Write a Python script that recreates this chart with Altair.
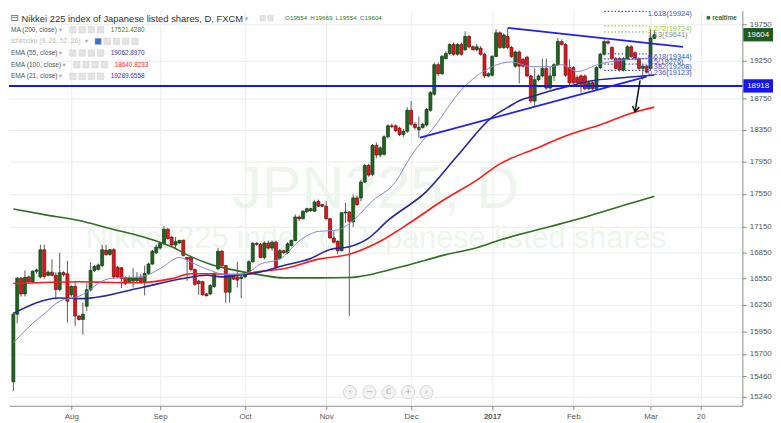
import altair as alt
import pandas as pd

# ---------------- layout helpers (reference plot 757x408 -> ours) ----------------
W, H = 742, 400
RW, RH = 757.0, 408.0


def px(x):
    return round(x * W / RW, 2)


def py(y):
    return round(y * H / RH, 2)


FONT = "Liberation Sans"
SYM = "DejaVu Sans"

# ---------------- data ----------------
holidays = ["2016-12-26", "2017-01-02"]
dates = [d.strftime("%Y-%m-%d") for d in pd.bdate_range("2016-07-11", "2017-03-02")
         if d.strftime("%Y-%m-%d") not in holidays]

open_ = [
    15400, 16140, 16550, 16370, 16565, 16510, 16630, 16565, 16880, 16584,
    16620, 16584, 16420, 16614, 16600, 16361, 16455, 16120, 16082, 16230,
    16417, 16640, 16650, 16696, 16874, 16826, 16881, 16677, 16670, 16555,
    16510, 16517, 16520, 16555, 16510, 16603, 16714, 16845, 16900, 16950,
    17124, 17030, 16937, 16960, 16993, 16790, 16790, 16651, 16517, 16510,
    16370, 16370, 16455, 16659, 16863, 16696, 16390, 16584, 16565, 16547,
    16565, 16621, 16740, 16956, 16945, 16790, 16960, 16900, 16970, 16780,
    16870, 16846, 16930, 16990, 17270, 17250, 17335, 17345, 17340, 17460,
    17420, 17400, 17250, 17020, 16980, 16870, 17320, 17330, 17210, 17500,
    17500, 17695, 17900, 17790, 18150, 18030, 18040, 18260, 18400, 18400,
    18370, 18290, 18330, 18600, 18420, 18350, 18380, 18410, 18600, 18810,
    19200, 19080, 19280, 19350, 19470, 19340, 19470, 19400, 19580, 19440,
    19400, 19420, 19340, 19050, 19060, 19310, 19630, 19430, 19580, 19430,
    19180, 19370, 19270, 19300, 19050, 18720, 19000, 19050, 19150, 18890,
    19050, 19200, 19510, 19470, 19160, 19160, 19030, 19050, 19050, 18880,
    18960, 18880, 19160, 19340, 19510, 19430, 19280, 19280, 19130, 19280,
    19440, 19360, 19280, 19150, 19180, 19150, 19554]

high_ = [
    16160, 16565, 16565, 16640, 16580, 16640, 16660, 16940, 16940, 16640,
    16770, 16620, 16845, 16630, 16750, 16470, 16510, 16130, 16270, 16490,
    16733, 16700, 16720, 16937, 16937, 16890, 16900, 16690, 16680, 16570,
    16580, 16666, 16620, 16600, 16696, 16730, 16880, 16940, 16970, 17160,
    17140, 17040, 17030, 17000, 17000, 16790, 16800, 16660, 16530, 16520,
    16380, 16480, 16620, 16900, 16880, 16700, 16600, 16600, 16740, 16584,
    16620, 16760, 16970, 16970, 16960, 16980, 16990, 16990, 16990, 16890,
    16880, 16970, 17000, 17300, 17290, 17350, 17380, 17380, 17470, 17480,
    17430, 17460, 17260, 17100, 16990, 17330, 17440, 17340, 17540, 17530,
    17720, 17920, 17920, 18170, 18190, 18140, 18280, 18420, 18430, 18420,
    18390, 18360, 18640, 18720, 18450, 18520, 18440, 18630, 18850, 19230,
    19230, 19330, 19380, 19490, 19500, 19490, 19500, 19650, 19600, 19460,
    19480, 19450, 19360, 19100, 19330, 19680, 19650, 19620, 19700, 19450,
    19390, 19390, 19290, 19320, 19060, 19150, 19070, 19280, 19280, 19170,
    19220, 19560, 19540, 19490, 19270, 19180, 19060, 19070, 19070, 18980,
    18980, 19180, 19360, 19540, 19530, 19450, 19300, 19300, 19300, 19460,
    19460, 19380, 19300, 19200, 19200, 19680, 19669]

low_ = [
    15300, 16040, 16340, 16340, 16490, 16490, 16600, 16547, 16547, 16570,
    16570, 16305, 16400, 16570, 16045, 16340, 16010, 16070, 15915, 16175,
    16398, 16620, 16640, 16677, 16808, 16810, 16547, 16550, 16435, 16470,
    16490, 16443, 16500, 16490, 16353, 16590, 16700, 16830, 16880, 16940,
    17000, 16920, 16900, 16950, 16800, 16520, 16630, 16460, 16360, 16350,
    16340, 16360, 16440, 16640, 16680, 16270, 16270, 16530, 16443, 16323,
    16550, 16600, 16730, 16930, 16780, 16770, 16880, 16870, 16660, 16760,
    16830, 16830, 16920, 16980, 17220, 17240, 17320, 17330, 17330, 17390,
    17390, 17230, 17010, 16960, 16830, 16860, 17200, 16120, 17150, 17400,
    17460, 17680, 17760, 17770, 17990, 18000, 18020, 18240, 18370, 18320,
    18270, 18260, 18310, 18400, 18350, 18250, 18360, 18390, 18580, 18790,
    19050, 19060, 19270, 19330, 19320, 19320, 19320, 19380, 19420, 19390,
    19380, 19320, 19020, 19030, 19040, 19300, 19410, 19410, 19410, 19290,
    19160, 18950, 19160, 19030, 18700, 18660, 18980, 19030, 18870, 18870,
    18980, 19180, 19460, 19040, 18920, 18940, 18940, 18830, 18860, 18860,
    18860, 18860, 19140, 19320, 19470, 19270, 19140, 19110, 19110, 19260,
    19290, 19260, 19130, 19000, 19080, 19130, 19554]

close_ = [
    16140, 16550, 16370, 16560, 16510, 16630, 16645, 16880, 16570, 16620,
    16584, 16420, 16614, 16590, 16288, 16455, 16120, 16082, 16140, 16417,
    16640, 16688, 16703, 16881, 16826, 16881, 16565, 16565, 16547, 16490,
    16555, 16555, 16555, 16510, 16603, 16714, 16863, 16912, 16956, 17124,
    17012, 16937, 16975, 16990, 16815, 16770, 16651, 16480, 16490, 16361,
    16350, 16465, 16603, 16863, 16696, 16390, 16584, 16540, 16528, 16565,
    16603, 16740, 16956, 16945, 16790, 16960, 16900, 16970, 16680, 16870,
    16846, 16950, 16990, 17270, 17250, 17340, 17370, 17370, 17450, 17400,
    17400, 17250, 17020, 16970, 16870, 17320, 17330, 17220, 17500, 17420,
    17695, 17900, 17780, 18150, 18030, 18120, 18260, 18400, 18390, 18340,
    18290, 18330, 18600, 18420, 18380, 18380, 18420, 18610, 18830, 19200,
    19080, 19310, 19350, 19470, 19340, 19470, 19340, 19580, 19440, 19400,
    19440, 19340, 19050, 19080, 19310, 19630, 19430, 19600, 19430, 19310,
    19370, 19180, 19180, 19050, 18720, 19000, 19050, 19150, 18890, 19050,
    19200, 19510, 19470, 19060, 18960, 18960, 18960, 18940, 18880, 18960,
    18880, 19160, 19340, 19510, 19490, 19280, 19150, 19130, 19280, 19440,
    19310, 19280, 19150, 19180, 19100, 19560, 19604]

# bar-index positions of the month labels and the labels themselves
month_ticks = [15, 38, 60, 81, 103, 124, 145, 165, 178]
month_labels = ["Aug", "Sep", "Oct", "Nov", "Dec", "2017", "Feb", "Mar", "20"]
price_ticks = [19750, 19250, 18750, 18350, 17950, 17550, 17150, 16850,
               16550, 16250, 15950, 15700, 15460, 15240]

# moving averages (bar index, value)
ma200_i = [0, 8, 17, 25, 33, 41, 46, 51, 56, 64, 70, 79, 87, 92, 97, 103, 111, 120, 126, 139, 149, 159, 166]
ma200_v = [17365, 17298, 17228, 17132, 17040, 16915, 16800, 16711, 16655, 16588, 16554, 16554,
           16558, 16588, 16643, 16711, 16812, 16903, 16995, 17155, 17283, 17423, 17521]
ema100_i = [0, 8, 17, 25, 33, 41, 46, 51, 58, 64, 70, 79, 87, 95, 103, 111, 120, 126, 135, 144, 152, 160, 166]
ema100_v = [16490, 16501, 16509, 16501, 16498, 16545, 16602, 16602, 16591, 16629, 16659, 16771,
            16827, 16980, 17210, 17463, 17719, 17920, 18106, 18290, 18413, 18562, 18641]
ema55_i = [0, 12, 18, 33, 44, 50, 54, 58, 64, 70, 77, 82, 87, 92, 97, 107, 115, 124, 128, 131,
           135, 139, 144, 149, 159, 166]
ema55_v = [16150, 16324, 16317, 16441, 16547, 16584, 16565, 16584, 16621, 16696, 16778, 16884,
           16915, 17018, 17228, 17580, 18020, 18512, 18637, 18725, 18788, 18852, 18916, 18980,
           19032, 19063]
ema21_i = [0, 5, 8, 12, 17, 25, 33, 38, 43, 46, 51, 55, 60, 64, 69, 74, 79, 84, 87, 93, 99, 103,
           109, 116, 124, 129, 134, 139, 142, 146, 152, 156, 161, 166]
ema21_v = [15823, 16038, 16146, 16288, 16343, 16547, 16565, 16659, 16790, 16733, 16640, 16591,
           16602, 16714, 16771, 16983, 17098, 17113, 17190, 17463, 17699, 18020, 18388, 18864,
           19173, 19237, 19173, 19173, 19199, 19109, 19212, 19250, 19276, 19290]

support_level = 18918
last_close = 19604
tri_upper_i = [128.1, 173.4]
tri_upper_v = [19697, 19440]
tri_lower_i = [105.3, 164.0]
tri_lower_v = [18249, 19042]
fib_names = ["1.618", "1.272", "1.13", "0.618", "0.5", "0.382", "0.236"]
fib_values = [19924, 19724, 19641, 19344, 19276, 19208, 19123]
fib_span = [153.0, 164.0]
arrow_i = [162.3, 161.0]
arrow_v = [18991, 18585]

legend_names = ["MA (200, close)", "Ichimoku (9, 26, 52, 26)", "EMA (55, close)",
                "EMA (100, close)", "EMA (21, close)"]
legend_values = ["17521.4280", "", "19062.8970", "18640.8233", "19289.6558"]
ohlc_names = ["O", "H", "L", "C"]
ohlc_values = ["19554", "19669", "19554", "19604"]

# ---------------- styles ----------------
fib_colors = ["#3b4fd8", "#9acd32", "#8a8a8a", "#3b4fd8", "#3b4fd8", "#3b4fd8", "#3b4fd8"]
UP, DOWN = "#1f6420", "#e8141b"

# ---------------- scales & axes ----------------
label_expr = " : ".join(f"datum.value == {t} ? '{l}'" for t, l in zip(month_ticks, month_labels)) + " : ''"
xscale = alt.Scale(domain=[0.15, 187.5], nice=False, zero=False)
yscale = alt.Scale(type="log", domain=[15145, 19938], nice=False)
xaxis = alt.Axis(values=month_ticks, labelExpr=label_expr, title=None, grid=True, gridColor="#ececec",
                 domainColor="#8c8c8c", tickColor="#8c8c8c", tickSize=4, labelFont=FONT,
                 labelFontSize=8, labelColor="#555555", labelPadding=3, labelFlush=False,
                 labelOverlap=False,
                 labelFontWeight={"condition": {"test": "datum.value == 124", "value": "bold"},
                                  "value": "normal"})
yaxis = alt.Axis(orient="right", values=price_ticks, format="d", title=None, grid=True,
                 gridColor="#ececec", domainColor="#8c8c8c", tickColor="#8c8c8c", tickSize=4,
                 labelFont=FONT, labelFontSize=8, labelColor="#555555", labelPadding=3,
                 labelFlush=False, labelOverlap=False)


def X(f):
    return alt.X(f, type="quantitative", scale=xscale, axis=xaxis)


def Y(f):
    return alt.Y(f, type="quantitative", scale=yscale, axis=yaxis)


def txt(s, x, y, color="#555555", size=7, weight="normal", align="left", font=FONT):
    return alt.Chart(alt.Data(values=[{"t": s}])).mark_text(
        color=color, fontSize=size, fontWeight=weight, align=align, baseline="middle", font=font
    ).encode(x=alt.value(px(x)), y=alt.value(py(y)), text="t:N")


def box(x, y, color="#e4e4e4", size=6.5):
    return alt.Chart(alt.Data(values=[{}])).mark_square(
        size=size * size, color=color, opacity=1, stroke="#d0d0d0", strokeWidth=0.5
    ).encode(x=alt.value(px(x)), y=alt.value(py(y)))


layers = []

# watermark
layers.append(txt("JPN225, D", 378.5, 186, color="#edf5ed", size=60, align="center"))
layers.append(txt("Nikkei 225 index of Japanese listed shares", 378.5, 236, color="#edf5ed",
                  size=31, align="center"))

# candles
n = min(len(dates), len(open_), len(high_), len(low_), len(close_))
cdf = pd.DataFrame({"i": list(range(n)), "date": dates[:n], "open": open_[:n], "high": high_[:n],
                    "low": low_[:n], "close": close_[:n]})
up = "datum.close >= datum.open"
layers.append(alt.Chart(cdf).mark_rule(color="#5a5a5a", strokeWidth=1, clip=True).encode(
    x=X("i"), y=Y("low"), y2="high"))
layers.append(alt.Chart(cdf).mark_bar(size=3, strokeWidth=0.7, clip=True).encode(
    x=X("i"), y=Y("open"), y2="close",
    fill=alt.condition(up, alt.value(UP), alt.value(DOWN)),
    stroke=alt.condition(up, alt.value("#0c3a0c"), alt.value("#6b0a0a"))))


def ma_line(idx, vals, color, width):
    df = pd.DataFrame({"i": idx, "v": vals})
    return alt.Chart(df).mark_line(color=color, strokeWidth=width, interpolate="monotone",
                                   clip=True).encode(x=X("i"), y=Y("v"))


layers.append(ma_line(ma200_i, ma200_v, "#2f6f1f", 1.6))
layers.append(ma_line(ema100_i, ema100_v, "#ff1a1a", 1.6))
layers.append(ma_line(ema55_i, ema55_v, "#27279a", 1.6))
layers.append(ma_line(ema21_i, ema21_v, "#8585dd", 1.0))

# support line
layers.append(alt.Chart(pd.DataFrame({"v": [support_level]})).mark_rule(
    color="#1414f5", strokeWidth=2).encode(y=Y("v")))

# triangle
tri = pd.DataFrame({"seg": ["u", "u", "l", "l"], "i": tri_upper_i + tri_lower_i,
                    "v": tri_upper_v + tri_lower_v})
layers.append(alt.Chart(tri).mark_line(color="#1f1ff0", strokeWidth=1.8).encode(
    x=X("i"), y=Y("v"), detail="seg:N"))

# fibonacci levels
fib = pd.DataFrame({"value": fib_values, "col": fib_colors,
                    "label": [f"{a}({b})" for a, b in zip(fib_names, fib_values)],
                    "x0": [fib_span[0]] * len(fib_values), "x1": [fib_span[1]] * len(fib_values)})
layers.append(alt.Chart(fib).mark_rule(strokeDash=[1.5, 2], strokeWidth=1.2).encode(
    x=X("x0"), x2="x1", y=Y("value"), color=alt.Color("col:N", scale=None)))
layers.append(alt.Chart(fib).mark_text(align="left", baseline="middle", dx=1, dy=3, fontSize=7.5,
                                       font=FONT).encode(
    x=X("x1"), y=Y("value"), text="label:N", color=alt.Color("col:N", scale=None)))

# arrow
layers.append(alt.Chart(pd.DataFrame({"i": arrow_i, "v": arrow_v})).mark_line(
    color="#111111", strokeWidth=1.5).encode(x=X("i"), y=Y("v")))
layers.append(alt.Chart(pd.DataFrame({"i": [arrow_i[-1]], "v": [arrow_v[-1]]})).mark_point(
    shape="M-0.7,-1L0,0L0.7,-1", size=100, filled=False, stroke="#111111", strokeWidth=1.5,
    angle=9, opacity=1).encode(x=X("i"), y=Y("v")))

# price tags on the axis
tags = pd.DataFrame({"v": [last_close, support_level], "t": [str(last_close), str(support_level)],
                     "bg": ["#1e5b1e", "#1414f5"]})
RECT = "M-1,-0.45L1,-0.45L1,0.45L-1,0.45Z"
layers.append(alt.Chart(tags).mark_point(shape=RECT, size=900, filled=True, opacity=1,
                                         strokeWidth=0).encode(
    x=alt.value(W + 16), y=Y("v"), fill=alt.Color("bg:N", scale=None)))
layers.append(alt.Chart(tags).mark_text(color="white", fontSize=8, align="center",
                                        baseline="middle", font=FONT).encode(
    x=alt.value(W + 16), y=Y("v"), text="t:N"))

# header legend
layers.append(txt("\u229f", 5.5, 8, color="#666666", size=10, align="center", font=SYM))
layers.append(txt("Nikkei 225 index of Japanese listed shares, D, FXCM", 13, 8.5, color="#333333",
                  size=9.5))
layers.append(txt("\u25be", 245, 8.5, color="#aaaaaa", size=7, align="center", font=SYM))
layers.append(box(262, 8, size=5.5))
layers.append(box(270, 8, size=5.5))
for nm, val, xn, xv in zip(ohlc_names, ohlc_values, [285, 311, 337, 362], [290, 316, 341, 367]):
    layers.append(txt(nm, xn, 8, color="#666666", size=6.3))
    layers.append(txt(val, xv, 8, color="#2a7a2a", size=6.3))

row_y = [20, 32, 44, 56, 68]
row_arrow_x = [53, 80, 53, 57, 53]
row_icon_x = [66, 92, 66, 70, 66]
row_val_x = [105, 0, 105, 109, 105]
row_val_col = ["#3b8526", "#000000", "#3636a8", "#ff2a2a", "#3636a8"]
for k, (nm, val) in enumerate(zip(legend_names, legend_values)):
    y = row_y[k]
    layers.append(txt(nm, 2, y, color="#bbbbbb" if k == 1 else "#555555", size=6.7))
    layers.append(txt("\u25be", row_arrow_x[k], y, color="#aaaaaa", size=6.5, align="center",
                      font=SYM))
    nicons = 5 if k == 1 else 4
    for j in range(nicons):
        col = "#3a6fd0" if (k == 1 and j == 0) else "#e4e4e4"
        layers.append(box(row_icon_x[k] + 9.5 * j, y, color=col))
    if val:
        layers.append(txt(val, row_val_x[k], y, color=row_val_col[k], size=6.5))

# realtime marker
layers.append(alt.Chart(alt.Data(values=[{}])).mark_circle(size=16, color="#2f6f3f", opacity=1)
              .encode(x=alt.value(px(722)), y=alt.value(py(7.5))))
layers.append(txt("realtime", 726, 7.5, color="#2f6f3f", size=6.5, weight="bold"))

# zoom buttons
for bx, sym in zip([352, 372, 392, 412, 431], ["\u2039", "\u2212", "C", "+", "\u203a"]):
    layers.append(alt.Chart(alt.Data(values=[{}])).mark_point(
        shape="circle", size=180, filled=True, fill="#f3f3f3", stroke="#d6d6d6", strokeWidth=1,
        opacity=1).encode(x=alt.value(px(bx)), y=alt.value(py(394))))
    layers.append(txt(sym, bx, 394, color="#aaaaaa", size=8, align="center", font=SYM))

chart = alt.layer(*layers).properties(width=W, height=H, padding=0, background="white") \
    .configure_view(stroke=None)

chart.save("out.html", embed_options={"renderer": "svg", "actions": False})
